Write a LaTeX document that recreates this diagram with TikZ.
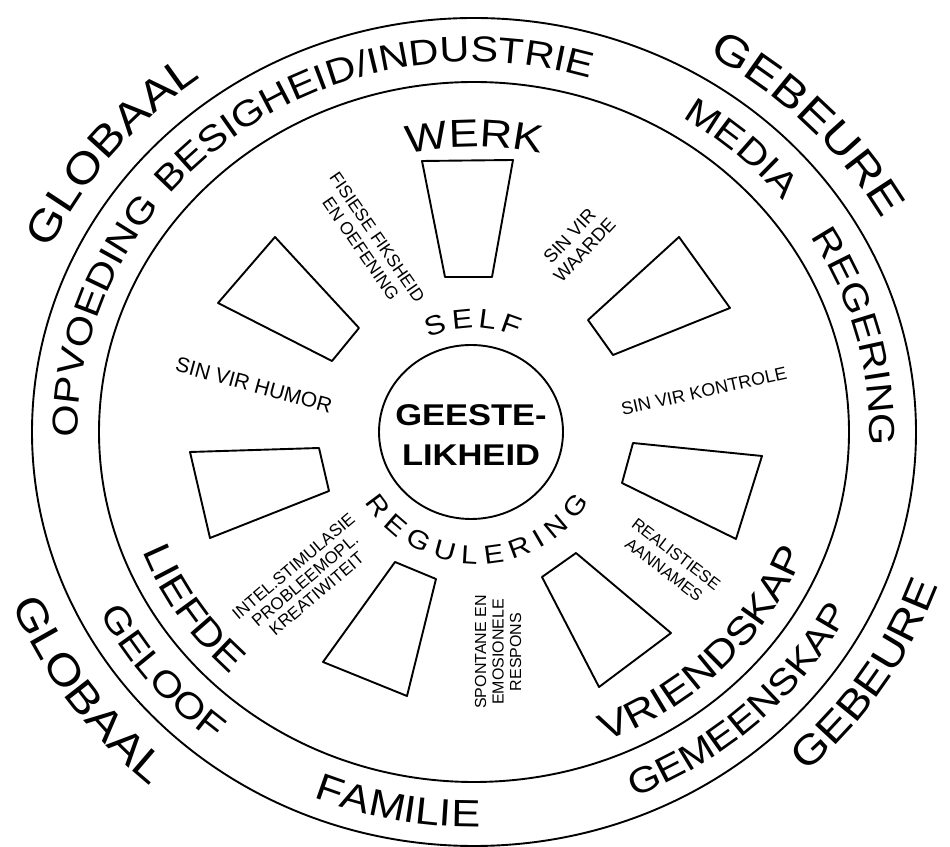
\documentclass[tikz,border=0pt]{standalone}
\usepackage{fontspec}
\setmainfont{Liberation Sans}
\newfontfamily\widefont[FakeStretch=1.15]{Liberation Sans}
\usetikzlibrary{decorations.text}

\tikzset{
	arctext/.style 2 args={decorate, decoration={text along path, text align=center, text={|\widefont\fontsize{#1}{#1}\selectfont|#2}}},
	fittext/.style 2 args={decorate, decoration={text along path, text align=fit to path, text={|\widefont\fontsize{#1}{#1}\selectfont|#2}}},
	lbl/.style={align=center, inner sep=0pt}
}

\begin{document}
\begin{tikzpicture}[x=1pt, y=1pt, line width=1.9pt, line join=round]
	\useasboundingbox (0,0) rectangle (950,846);
	\coordinate (c) at (474,414);
	\draw (c) ellipse [x radius=442pt, y radius=414pt];
	\draw (c) ellipse [x radius=375pt, y radius=350pt];
	\draw (471,414) ellipse [x radius=92pt, y radius=87pt];
	\node (gees) at (471,411)	[lbl, font=\widefont\bfseries\fontsize{30}{40}\selectfont]	{GEESTE-\\LIKHEID};

	\draw (422,685) -- (513,686) -- (492,569) -- (445,569) -- cycle;
	\draw (275,609) -- (218,543) -- (332,485) -- (359,518) -- cycle;
	\draw (679,609) -- (730,538) -- (613,491) -- (588,526) -- cycle;
	\draw (190,394) -- (319,398) -- (329,355) -- (210,308) -- cycle;
	\draw (395,284) -- (436,267) -- (407,150) -- (323,184) -- cycle;
	\draw (576,293) -- (542,269) -- (599,159) -- (671,213) -- cycle;
	\draw (633,403) -- (762,390) -- (736,307) -- (622,363) -- cycle;

	\path[arctext={43}{GLOBAAL}] (c) ++(176:467pt and 436pt) arc[start angle=176, end angle=106, x radius=467pt, y radius=436pt];
	\path[arctext={43}{GEBEURE}] (c) ++(79:467pt and 436pt) arc[start angle=79, end angle=9, x radius=467pt, y radius=436pt];
	\path[arctext={41}{GEBEURE}] (c) ++(-68:492pt and 462pt) arc[start angle=-68, end angle=2, x radius=492pt, y radius=462pt];
	\path[arctext={43}{GLOBAAL}] (c) ++(180:497pt and 467pt) arc[start angle=180, end angle=250, x radius=497pt, y radius=467pt];

	\path[arctext={36}{BESIGHEID/INDUSTRIE}] (c) ++(167:396pt and 370pt) arc[start angle=167, end angle=47, x radius=396pt, y radius=370pt];
	\path[arctext={36}{MEDIA}] (c) ++(78:396pt and 370pt) arc[start angle=78, end angle=18, x radius=396pt, y radius=370pt];
	\path[arctext={36}{REGERING}] (c) ++(54.5:396pt and 370pt) arc[start angle=54.5, end angle=-25.5, x radius=396pt, y radius=370pt];
	\path[arctext={36}{OPVOEDING}] (c) ++(202:396pt and 370pt) arc[start angle=202, end angle=122, x radius=396pt, y radius=370pt];
	\path[arctext={36}{GEMEENSKAP}] (c) ++(-96.5:421pt and 395pt) arc[start angle=-96.5, end angle=3.5, x radius=421pt, y radius=395pt];
	\path[arctext={38}{FAMILIE}] (c) ++(-141:421pt and 395pt) arc[start angle=-141, end angle=-61, x radius=421pt, y radius=395pt];
	\path[arctext={36}{GELOOF}] (c) ++(184:421pt and 395pt) arc[start angle=184, end angle=254, x radius=421pt, y radius=395pt];

	\path[arctext={39}{WERK}] (c) ++(130:305pt and 285pt) arc[start angle=130, end angle=50, x radius=305pt, y radius=285pt];
	\path[arctext={38}{LIEFDE}] (c) ++(183.5:355pt and 333pt) arc[start angle=183.5, end angle=243.5, x radius=355pt, y radius=333pt];
	\path[arctext={38}{VRIENDSKAP}] (c) ++(-94:355pt and 333pt) arc[start angle=-94, end angle=6, x radius=355pt, y radius=333pt];
	\path[fittext={27}{SELF}] (473,414) ++(115:104pt) arc[start angle=115, end angle=65, radius=104pt];
	\path[fittext={26}{REGULERING}] (477,414) ++(212:132pt) arc[start angle=212, end angle=328, radius=132pt];

	\node (fisiese) at (369,603)	[lbl, rotate=-55.3, font=\fontsize{17.5}{20}\selectfont]	{FISIESE FIKSHEID\\EN OEFENING};
	\node (waarde) at (577,603)	[lbl, rotate=46.8, font=\fontsize{18.5}{20.5}\selectfont]	{SIN VIR\\WAARDE};
	\node (kontrole) at (704,455)	[lbl, rotate=12.5, font=\fontsize{18}{20}\selectfont]	{SIN VIR KONTROLE};
	\node (humor) at (254,461)	[lbl, rotate=-15.2, font=\fontsize{21}{23}\selectfont]	{SIN VIR HUMOR};
	\node (aannames) at (670,284)	[lbl, rotate=-37.6, font=\fontsize{16.5}{20}\selectfont]	{REALISTIESE\\AANNAMES};
	\node (respons) at (498,194)	[lbl, rotate=90, font=\fontsize{16}{17.5}\selectfont]	{SPONTANE EN\\EMOSIONELE\\RESPONS};
	\node (intel) at (305,266)	[lbl, rotate=40.2, font=\fontsize{17}{18}\selectfont]	{INTEL.STIMULASIE\\PROBLEEMOPL.\\KREATIWITEIT};
\end{tikzpicture}
\end{document}
